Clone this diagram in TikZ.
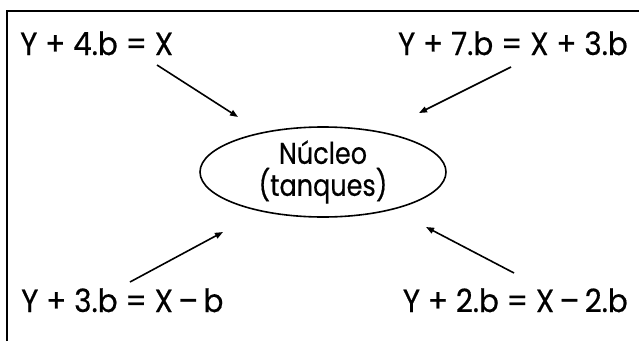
\documentclass[tikz,border=0pt]{standalone}
\usepackage{fontspec}
\setmainfont{Poppins}[FakeStretch=0.92,FakeBold=0.5]
\newfontfamily\nucfont{Poppins}[FakeStretch=0.85,FakeBold=0.5]
\usetikzlibrary{shapes.geometric,arrows.meta}
\begin{document}
\begin{tikzpicture}[x=1pt,y=1pt,
  eq/.style={font=\fontsize{32}{34}\selectfont, inner sep=0pt},
  arr/.style={line width=1.6pt, -{Triangle[length=8pt,width=6pt]}},
  frame/.style={line width=2.4pt}]
\useasboundingbox (0,0) rectangle (639,341);
\coordinate (tl) at (7,330);
\coordinate (bl) at (7,0);
\coordinate (tr) at (639,330);
\draw[frame] (bl) -- (tl) -- (tr);
% equations (baseline y positions)
\node[eq, anchor=base west] (e1) at (20,286) {Y + 4.b = X};
\node[eq, anchor=base east] (e2) at (628,286) {Y + 7.b = X + 3.b};
\node[eq, anchor=base west] (e3) at (21,29) {Y + 3.b = X\,–\,b};
\node[eq, anchor=base east] (e4) at (628,29) {Y + 2.b = X\,–\,2.b};
% nucleus
\node[draw, ellipse, line width=1.6pt, minimum width=246pt, minimum height=90pt, inner sep=0pt,
  align=center, font=\nucfont\fontsize{30}{32}\selectfont] (n) at (323,169) {Núcleo\\(tanques)};
% arrows
\coordinate (s1) at (157,276); \coordinate (t1) at (238,224);
\coordinate (s2) at (511,274); \coordinate (t2) at (419,228);
\coordinate (s3) at (130,59);  \coordinate (t3) at (223,109);
\coordinate (s4) at (514,68);  \coordinate (t4) at (426,114);
\draw[arr] (s1) -- (t1);
\draw[arr] (s2) -- (t2);
\draw[arr] (s3) -- (t3);
\draw[arr] (s4) -- (t4);
\end{tikzpicture}
\end{document}
